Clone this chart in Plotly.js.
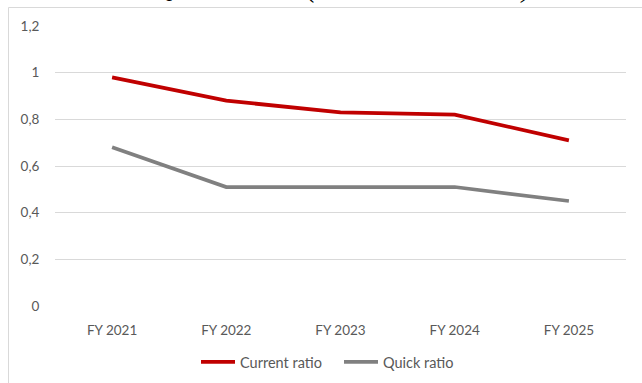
<!DOCTYPE html>
<html>
<head>
<meta charset="utf-8">
<script src="https://cdn.plot.ly/plotly-3.0.1.min.js"></script>
<style>
  html, body { margin: 0; padding: 0; background: #ffffff; }
  #chart { width: 642px; height: 383px; }
</style>
</head>
<body>
<div id="chart"></div>
<script>
// Fiscal years on the category axis
const years = ["FY 2021", "FY 2022", "FY 2023", "FY 2024", "FY 2025"];

// Liquidity ratios per fiscal year
const currentRatio = [0.98, 0.88, 0.83, 0.82, 0.71];
const quickRatio = [0.68, 0.51, 0.51, 0.51, 0.45];

// Value axis ticks, written with a decimal comma
const yTickVals = [0, 0.2, 0.4, 0.6, 0.8, 1, 1.2];
const yTickText = ["0", "0,2", "0,4", "0,6", "0,8", "1", "1,2"];

const chartTitle = "Current and Quick Ratios (FY2021 – FY2025)";

const traces = [
  {
    x: years, y: currentRatio, name: "Current ratio",
    type: "scatter", mode: "lines",
    line: { color: "#C00000", width: 3.75 }
  },
  {
    x: years, y: quickRatio, name: "Quick ratio",
    type: "scatter", mode: "lines",
    line: { color: "#808080", width: 3.75 }
  }
];

const sansFamily = "Lato, 'Open Sans', sans-serif";
const tickFont = { family: sansFamily, size: 13.5, color: "#595959" };
const legendFont = { family: sansFamily, size: 14.5, color: "#595959" };

const W = 642, H = 383;
// pixel helpers for the plot area (55..626 wide, 26..306 tall)
const px2x = (px) => (px - 55) / 571;
const px2y = (py) => (306 - py) / 280;

const layout = {
  width: W, height: H,
  margin: { l: 55, r: 16, t: 26, b: 77, pad: 0, autoexpand: false },
  paper_bgcolor: "#ffffff", plot_bgcolor: "#ffffff",
  showlegend: true,
  legend: {
    orientation: "h",
    xref: "container", x: 196 / W, xanchor: "left",
    yref: "container", y: (H - 362) / H, yanchor: "middle",
    font: legendFont, itemwidth: 34, entrywidth: 94, traceorder: "normal",
    bgcolor: "rgba(0,0,0,0)"
  },
  xaxis: {
    type: "category", range: [-0.5, 4.5],
    showgrid: false, zeroline: false, showline: false,
    ticks: "outside", ticklen: 12, tickcolor: "rgba(0,0,0,0)",
    tickfont: tickFont, fixedrange: true
  },
  yaxis: {
    range: [0, 1.2], tickvals: yTickVals, ticktext: yTickText,
    showgrid: true, gridcolor: "#d9d9d9", gridwidth: 1,
    zeroline: false, showline: false,
    ticks: "outside", ticklen: 12, tickcolor: "rgba(0,0,0,0)",
    tickfont: tickFont, fixedrange: true
  },
  shapes: [
    {
      // chart frame, running past the right and bottom edges
      type: "rect", xref: "paper", yref: "paper",
      x0: px2x(8.5), x1: 1.2, y0: -0.6, y1: px2y(7.5),
      line: { color: "#d9d9d9", width: 1 }, fillcolor: "rgba(0,0,0,0)",
      layer: "below"
    }
  ],
  annotations: [
    {
      text: "<i>" + chartTitle + "</i>", showarrow: false,
      xref: "paper", yref: "paper",
      x: px2x(271), xanchor: "center",
      y: px2y(5), yanchor: "bottom",
      font: { family: "'Liberation Serif', 'Times New Roman', serif", size: 28, color: "#000000" }
    }
  ]
};

Plotly.newPlot("chart", traces, layout, { displayModeBar: false, staticPlot: true });
</script>
</body>
</html>
